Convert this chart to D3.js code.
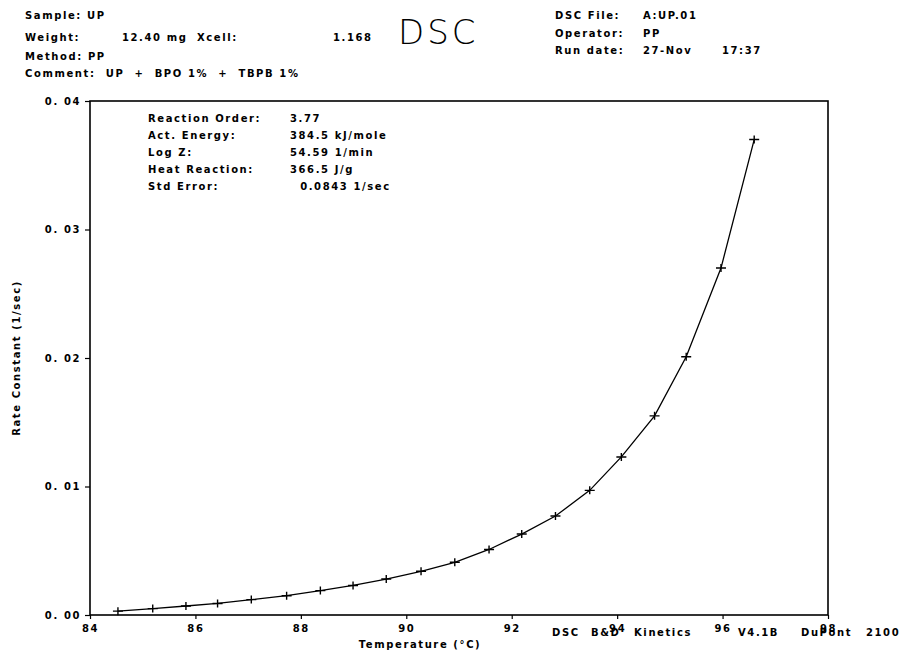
<!DOCTYPE html>
<html>
<head>
<meta charset="utf-8">
<script src="https://cdn.jsdelivr.net/npm/d3@7"></script>
<style>
  body { margin: 0; background: #fff; }
  svg text { font-family: "DejaVu Sans", sans-serif; font-weight: bold; font-size: 10px; letter-spacing: 1.6px; fill: #000; }
</style>
</head>
<body>
<div id="chart"></div>
<script>
// temperature (°C) and rate constant (1/sec)
const temperature = [84.53, 85.19, 85.82, 86.42, 87.06, 87.73, 88.37, 88.99, 89.62, 90.28,
                     90.92, 91.57, 92.19, 92.83, 93.48, 94.08, 94.71, 95.31, 95.97, 96.60];
const rateConstant = [0.0003, 0.0005, 0.0007, 0.0009, 0.0012, 0.0015, 0.0019, 0.0023, 0.0028, 0.0034,
                      0.0041, 0.0051, 0.0063, 0.0077, 0.0097, 0.0123, 0.0155, 0.0201, 0.0270, 0.0370];
const xTicks = [84, 86, 88, 90, 92, 94, 96, 98];
const yTicks = [0, 0.01, 0.02, 0.03, 0.04];

const headerLeft = [
  ["Sample: UP", 25, 19],
  ["Weight:", 25, 41], ["12.40 mg", 122, 41], ["Xcell:", 197, 41], ["1.168", 333, 41],
  ["Method: PP", 25, 60],
  ["Comment:  UP  +  BPO 1%  +  TBPB 1%", 25, 77]
];
const headerRight = [
  ["DSC File:", 555, 19], ["A:UP.01", 643, 19],
  ["Operator:", 555, 37], ["PP", 643, 37],
  ["Run date:", 555, 54], ["27-Nov", 643, 54], ["17:37", 722, 54]
];
const resultLabels = ["Reaction Order:", "Act. Energy:", "Log Z:", "Heat Reaction:", "Std Error:"];
const resultValues = ["3.77", "384.5 kJ/mole", "54.59 1/min", "366.5 J/g", "  0.0843 1/sec"];
const footer = [["DSC", 552], ["B&D", 591], ["Kinetics", 634], ["V4.1B", 738], ["DuPont", 801], ["2100", 866]];

const width = 902, height = 659;
const margin = {top: 101, right: 74, bottom: 44, left: 90};

const svg = d3.select("#chart")
  .append("svg")
    .attr("width", width)
    .attr("height", height);

const x = d3.scaleLinear()
  .domain([84, 98])
  .range([margin.left, width - margin.right]);
const y = d3.scaleLinear()
  .domain([0, 0.04])
  .range([height - margin.bottom, margin.top]);

// frame
svg.append("rect")
  .attr("x", x(84)).attr("y", y(0.04))
  .attr("width", x(98) - x(84)).attr("height", y(0) - y(0.04))
  .attr("fill", "none").attr("stroke", "#000").attr("stroke-width", 1.6);

// axes
const xAxis = svg.append("g")
  .attr("transform", `translate(0,${y(0)})`)
  .call(d3.axisBottom(x).tickValues(xTicks).tickSize(4).tickPadding(6).tickFormat(d3.format("d")));
const yAxis = svg.append("g")
  .attr("transform", `translate(${x(84)},0)`)
  .call(d3.axisLeft(y).tickValues(yTicks).tickSize(5).tickPadding(4)
    .tickFormat(d => d3.format(".2f")(d).replace(".", ". ")));
[xAxis, yAxis].forEach(g => {
  g.select(".domain").remove();
  g.selectAll("line").attr("stroke", "#000").attr("stroke-width", 1.2);
  g.selectAll("text").attr("font-size", null);
});

// axis titles
svg.append("text")
  .attr("x", 420).attr("y", 648)
  .attr("text-anchor", "middle")
  .text("Temperature  (°C)");
svg.append("text")
  .attr("transform", `translate(20,${(y(0) + y(0.04)) / 2}) rotate(-90)`)
  .attr("text-anchor", "middle")
  .text("Rate Constant  (1/sec)");

// curve and + markers
const pts = temperature.map((t, i) => [t, rateConstant[i]]);
svg.append("path")
  .datum(pts)
  .attr("fill", "none")
  .attr("stroke", "#000")
  .attr("stroke-width", 1.3)
  .attr("d", d3.line().x(d => x(d[0])).y(d => y(d[1])));
svg.selectAll(".mark")
  .data(pts)
  .join("path")
    .attr("class", "mark")
    .attr("d", d => `M${x(d[0]) - 5},${y(d[1])}h10M${x(d[0])},${y(d[1]) - 4}v8`)
    .attr("stroke", "#000")
    .attr("stroke-width", 1.4);

// header
svg.selectAll(".hl")
  .data(headerLeft.concat(headerRight))
  .join("text")
    .attr("class", "hl")
    .attr("x", d => d[1]).attr("y", d => d[2])
    .attr("xml:space", "preserve")
    .text(d => d[0]);
svg.append("text")
  .attr("x", 398).attr("y", 44)
  .style("font-size", "34px")
  .style("font-weight", "200")
  .style("letter-spacing", "3px")
  .text("DSC");

// kinetics results
svg.selectAll(".rl")
  .data(resultLabels)
  .join("text")
    .attr("class", "rl")
    .attr("x", 148).attr("y", (d, i) => 122 + i * 17)
    .text(d => d);
svg.selectAll(".rv")
  .data(resultValues)
  .join("text")
    .attr("class", "rv")
    .attr("xml:space", "preserve")
    .attr("x", 290).attr("y", (d, i) => 122 + i * 17)
    .text(d => d);

// program footer, printed over the x axis labels as in the original
svg.selectAll(".ft")
  .data(footer)
  .join("text")
    .attr("class", "ft")
    .attr("x", d => d[1]).attr("y", 636)
    .text(d => d[0]);
</script>
</body>
</html>
